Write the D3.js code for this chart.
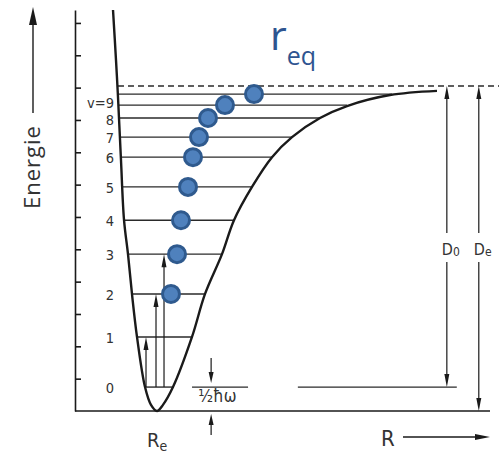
<!DOCTYPE html>
<html>
<head>
<meta charset="utf-8">
<script src="https://cdn.jsdelivr.net/npm/d3@7"></script>
<style>
  body { margin: 0; background: #fff; }
  svg { display: block; }
</style>
</head>
<body>
<div id="chart"></div>
<script>
// Data (R in arbitrary units, energy in axis tick units)
var levelE = [0.74, 2.29, 3.62, 4.85, 5.9, 6.93, 7.85, 8.47, 9.06, 9.46, 9.8];
var levelLeft = [1.687, 1.494, 1.373, 1.277, 1.181, 1.13, 1.108, 1.084, 1.06, 1.048, 1.036];
var levelRight = [2.361, 2.819, 3.133, 3.542, 3.831, 4.265, 4.747, 5.229, 5.904, 6.554, 7.64];
var levelLabels = ["0", "1", "2", "3", "4", "5", "6", "7", "8", "v=9", ""];
var dissocE = 10.05;

var curveR = [0.916, 0.988, 1.036, 1.108, 1.181, 1.277, 1.373, 1.494, 1.687, 1.831, 1.976,
              2.12, 2.361, 2.819, 3.133, 3.542, 3.831, 4.265, 4.747, 5.229, 5.904, 6.554, 7.59, 8.723];
var curveE = [12.4, 10.85, 9.71, 7.76, 5.91, 4.85, 3.62, 2.29, 0.74, 0.19, 0,
              0.19, 0.74, 2.29, 3.62, 4.85, 5.9, 6.93, 7.85, 8.47, 9.06, 9.43, 9.77, 9.9];

// r_eq markers on levels v=2 .. v=10
var reqLevel = [2, 3, 4, 5, 6, 7, 8, 9, 10];
var reqR = [2.313, 2.458, 2.554, 2.723, 2.843, 2.988, 3.205, 3.614, 4.313];

// transitions v=0 -> v=1,2,3
var transR = [1.711, 1.952, 2.145];
var transTo = [1, 2, 3];

var axisTicks = [1, 2, 3, 4, 5, 6, 7, 8, 9, 10, 11, 12];
var Re = 1.976, D0R = 8.96, DeR = 9.73, hwR = 3.28;

//Setup
var width = 499, height = 455;
var x = d3.scaleLinear().domain([0, 10]).range([75, 490]);
var y = d3.scaleLinear().domain([0, 12.4]).range([411, 10]);

var ink = "#1a1a1a";
var thin = "#2a2a2a";
var labelFont = "DejaVu Sans Condensed, DejaVu Sans, sans-serif";

var svg = d3.select("#chart").append("svg")
    .attr("width", width)
    .attr("height", height);

function arrowHead(g, tx, ty, dir, len, w) {
    // dir: "up", "down", "right"
    var pts;
    if (dir == "up") pts = [[tx, ty], [tx - w / 2, ty + len], [tx + w / 2, ty + len]];
    else if (dir == "down") pts = [[tx, ty], [tx - w / 2, ty - len], [tx + w / 2, ty - len]];
    else pts = [[tx, ty], [tx - len, ty - w / 2], [tx - len, ty + w / 2]];
    g.append("path").attr("d", "M" + pts.join("L") + "Z").attr("fill", ink);
}

// energy axis
svg.append("g")
    .attr("transform", "translate(" + x(0) + ",0)")
    .call(d3.axisRight(y).tickValues(axisTicks).tickFormat("").tickSize(6).tickSizeOuter(0))
    .call(g => g.selectAll("path, line").attr("stroke", ink).attr("stroke-width", 1.6));

// baseline
svg.append("line")
    .attr("x1", x(0)).attr("x2", x(10))
    .attr("y1", y(0)).attr("y2", y(0))
    .attr("stroke", ink).attr("stroke-width", 1.6);

// dissociation (dashed)
svg.append("line")
    .attr("x1", x(1.036)).attr("x2", width)
    .attr("y1", y(dissocE)).attr("y2", y(dissocE))
    .attr("stroke", thin).attr("stroke-width", 1.3)
    .attr("stroke-dasharray", "6,4");

// vibrational levels
svg.append("g").selectAll("line")
    .data(levelE)
    .join("line")
    .attr("x1", (d, i) => x(levelLeft[i]))
    .attr("x2", (d, i) => x(levelRight[i]))
    .attr("y1", d => y(d)).attr("y2", d => y(d))
    .attr("stroke", thin).attr("stroke-width", 1.4);

svg.append("g").selectAll("text")
    .data(levelE)
    .join("text")
    .attr("x", x(0) + 39)
    .attr("y", (d, i) => y(d) + (i == 9 ? 3 : (i == 8 ? 7 : 6)))
    .attr("text-anchor", "end")
    .attr("font-family", labelFont)
    .attr("font-size", 14.5)
    .attr("fill", "#333")
    .text((d, i) => levelLabels[i]);

// potential curve
var line = d3.line()
    .x(d => x(d[0]))
    .y(d => y(d[1]))
    .curve(d3.curveCatmullRom.alpha(0.5));

svg.append("path")
    .attr("d", line(curveR.map((r, i) => [r, curveE[i]])))
    .attr("fill", "none")
    .attr("stroke", ink)
    .attr("stroke-width", 2.4);

// transition arrows
var trans = svg.append("g");
transR.forEach(function (r, i) {
    var top = y(levelE[transTo[i]]);
    trans.append("line")
        .attr("x1", x(r)).attr("x2", x(r))
        .attr("y1", y(levelE[0])).attr("y2", top + 10)
        .attr("stroke", ink).attr("stroke-width", 1.2);
    arrowHead(trans, x(r), top, "up", 13, 5);
});

// D0 and De arrows
var dg = svg.append("g");
[[D0R, levelE[0], "D", "0"], [DeR, 0, "D", "e"]].forEach(function (a) {
    var xx = x(a[0]);
    var yTop = y(dissocE), yBot = y(a[1]);
    dg.append("line").attr("x1", xx).attr("x2", xx)
        .attr("y1", yTop + 10).attr("y2", 233)
        .attr("stroke", ink).attr("stroke-width", 1.2);
    dg.append("line").attr("x1", xx).attr("x2", xx)
        .attr("y1", 262).attr("y2", yBot - 10)
        .attr("stroke", ink).attr("stroke-width", 1.2);
    arrowHead(dg, xx, yTop, "up", 13, 5);
    arrowHead(dg, xx, yBot, "down", 13, 5);
    var t = dg.append("text")
        .attr("x", xx - 5).attr("y", 255)
        .attr("font-family", labelFont)
        .attr("font-size", 16).attr("fill", "#333");
    t.append("tspan").text(a[2]);
    t.append("tspan").attr("font-size", 12).attr("dy", 1).text(a[3]);
});

// D0 reference line at v=0
svg.append("line")
    .attr("x1", x(5.37)).attr("x2", x(9.2))
    .attr("y1", y(levelE[0])).attr("y2", y(levelE[0]))
    .attr("stroke", thin).attr("stroke-width", 1.3);

// 1/2 hbar omega
svg.append("line")
    .attr("x1", x(2.82)).attr("x2", x(4.17))
    .attr("y1", y(levelE[0])).attr("y2", y(levelE[0]))
    .attr("stroke", thin).attr("stroke-width", 1.3);
svg.append("line")
    .attr("x1", x(hwR)).attr("x2", x(hwR))
    .attr("y1", y(levelE[0]) - 29).attr("y2", y(levelE[0]) - 12)
    .attr("stroke", ink).attr("stroke-width", 1.2);
arrowHead(svg, x(hwR), y(levelE[0]) - 4, "down", 11, 5);
svg.append("line")
    .attr("x1", x(hwR)).attr("x2", x(hwR))
    .attr("y1", y(0) + 12).attr("y2", y(0) + 24)
    .attr("stroke", ink).attr("stroke-width", 1.2);
arrowHead(svg, x(hwR), y(0) + 3, "up", 11, 5);
svg.append("text")
    .attr("x", x(2.97)).attr("y", y(levelE[0]) + 15)
    .attr("font-family", labelFont)
    .attr("font-size", 17).attr("fill", "#333")
    .text("\u00BD\u0127\u03C9");

// Re label
var reText = svg.append("text")
    .attr("x", x(Re) - 10).attr("y", 447)
    .attr("font-family", labelFont)
    .attr("font-size", 20).attr("fill", "#333");
reText.append("tspan").text("R");
reText.append("tspan").attr("font-size", 14).attr("dy", 4).text("e");

// R axis label with arrow
svg.append("text")
    .attr("x", 381).attr("y", 446)
    .attr("font-family", labelFont)
    .attr("font-size", 22).attr("fill", "#333")
    .text("R");
svg.append("line")
    .attr("x1", 403).attr("x2", 478)
    .attr("y1", 437).attr("y2", 437)
    .attr("stroke", ink).attr("stroke-width", 1.4);
arrowHead(svg, 490, 437, "right", 15, 6);

// Energie label with arrow
svg.append("text")
    .attr("transform", "translate(40,209) rotate(-90)")
    .attr("font-family", "Open Sans, sans-serif")
    .attr("font-size", 22)
    .attr("letter-spacing", 1)
    .attr("fill", "#333")
    .text("Energie");
svg.append("line")
    .attr("x1", 33).attr("x2", 33)
    .attr("y1", 113).attr("y2", 22)
    .attr("stroke", ink).attr("stroke-width", 1.4);
arrowHead(svg, 33, 7, "up", 18, 8);

// r_eq markers
svg.append("g").selectAll("circle")
    .data(reqR)
    .join("circle")
    .attr("cx", d => x(d))
    .attr("cy", (d, i) => y(levelE[reqLevel[i]]))
    .attr("r", 8.5)
    .attr("fill", "#4f81bd")
    .attr("stroke", "#2f5a8e")
    .attr("stroke-width", 3);

var req = svg.append("text")
    .attr("x", 270).attr("y", 50)
    .attr("font-family", "Open Sans, sans-serif")
    .attr("font-size", 41)
    .attr("fill", "#2e5490");
req.append("tspan").text("r");
req.append("tspan").attr("font-size", 25).attr("dy", 15).text("eq");
</script>
</body>
</html>
